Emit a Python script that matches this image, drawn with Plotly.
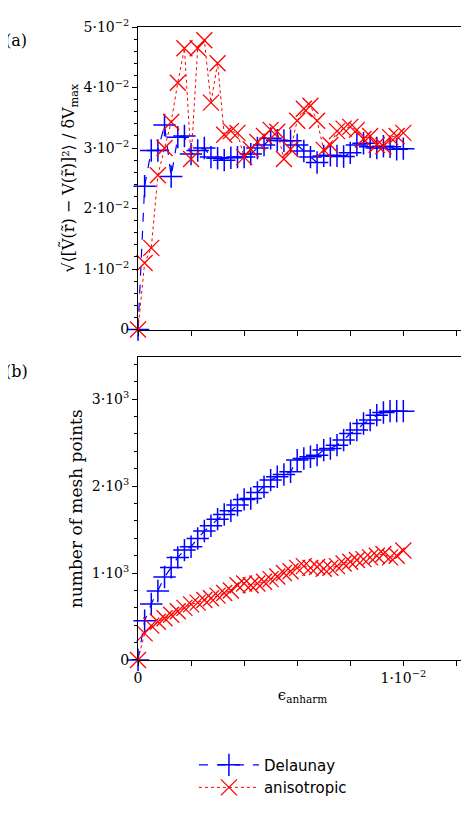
import numpy as np
import plotly.graph_objects as go
from plotly.subplots import make_subplots

eps = [i * 0.00025 for i in range(41)]

err_delaunay = [0, 0.0237, 0.0296, 0.0296, 0.0338, 0.0253, 0.0318, 0.032, 0.0290, 0.0296,
                0.0300, 0.0285, 0.0283, 0.0280, 0.0284, 0.0285, 0.0285, 0.0290, 0.0300, 0.0305,
                0.0316, 0.0313, 0.0312, 0.0312, 0.0305, 0.0295, 0.0285, 0.0276, 0.0287, 0.0288,
                0.0287, 0.0286, 0.0292, 0.0305, 0.0308, 0.0302, 0.0300, 0.0303, 0.0302, 0.0298,
                0.0299]
err_aniso = [0, 0.0110, 0.0135, 0.0255, 0.0300, 0.0343, 0.0408, 0.0465, 0.0282, 0.0465,
             0.0478, 0.0375, 0.0440, 0.0322, 0.0328, 0.0325, 0.0285, 0.0298, 0.0310, 0.0320,
             0.0330, 0.0327, 0.0282, 0.0298, 0.0345, 0.0365, 0.0370, 0.0345, 0.0297, 0.0305,
             0.0328, 0.0332, 0.0335, 0.0330, 0.0315, 0.0320, 0.0305, 0.0303, 0.0318, 0.0320,
             0.0325]

mesh_delaunay = [0, 452, 644, 793, 954, 1065, 1180, 1264, 1303, 1398,
                 1483, 1544, 1620, 1674, 1716, 1782, 1847, 1858, 1927, 1992,
                 2069, 2107, 2134, 2165, 2299, 2318, 2337, 2356, 2414, 2433,
                 2471, 2529, 2605, 2644, 2720, 2759, 2816, 2847, 2862, 2862,
                 2862]
mesh_aniso = [0, 306, 395, 440, 480, 520, 560, 600, 640, 660,
              690, 710, 740, 770, 800, 860, 880, 860, 880, 900,
              930, 960, 1000, 1020, 1060, 1080, 1060, 1070, 1050, 1060,
              1080, 1110, 1130, 1150, 1160, 1180, 1200, 1220, 1180, 1200,
              1260]

font = "DejaVu Serif"
fig = make_subplots(rows=2, cols=1, vertical_spacing=0.044)

blue = dict(mode="lines+markers", cliponaxis=False,
            line=dict(color="blue", dash="dash", width=1.2),
            marker=dict(symbol="cross-thin", size=16, line=dict(color="blue", width=1.5)))
red = dict(mode="lines+markers", cliponaxis=False,
           line=dict(color="red", dash="dot", width=1),
           marker=dict(symbol="x-thin", size=16, line=dict(color="red", width=1.3)))

fig.add_trace(go.Scatter(x=eps, y=err_delaunay, name="Delaunay", **blue), 1, 1)
fig.add_trace(go.Scatter(x=eps, y=err_aniso, name="anisotropic", **red), 1, 1)
fig.add_trace(go.Scatter(x=eps, y=mesh_delaunay, showlegend=False, **blue), 2, 1)
fig.add_trace(go.Scatter(x=eps, y=mesh_aniso, showlegend=False, **red), 2, 1)

ax = dict(showline=True, linecolor="black", linewidth=1, mirror=True, showgrid=False,
          zeroline=False, ticks="outside", tickcolor="black", ticklen=5,
          tickfont=dict(size=14, family=font))
xticks = [0, 0.002, 0.004, 0.006, 0.008, 0.01, 0.012]
xlabels = ["0", "", "", "", "", "1·10<sup>−2</sup>", ""]
for r in (1, 2):
    fig.update_xaxes(range=[0, 0.0124], tickvals=xticks,
                     ticktext=xlabels if r == 2 else [""] * 7, row=r, col=1, **ax)
fig.update_xaxes(title=dict(text="ϵ<sub>anharm</sub>", font=dict(size=15, family=font),
                            standoff=4),
                 row=2, col=1)

fig.update_yaxes(range=[0, 0.05], tickvals=[0, 0.01, 0.02, 0.03, 0.04, 0.05],
                 ticktext=["0"] + [f"{k}·10<sup>−2</sup>" for k in range(1, 6)],
                 minor=dict(dtick=0.002, ticks="outside", ticklen=3, tickcolor="black"),
                 title=dict(text="√⟨[Ṽ(r̃) − V(r̃)]²⟩ / δV<sub>max</sub>",
                            font=dict(size=16, family=font), standoff=4),
                 row=1, col=1, **ax)
fig.update_yaxes(range=[0, 3480], tickvals=[0, 1000, 2000, 3000],
                 ticktext=["0"] + [f"{k}·10<sup>3</sup>" for k in range(1, 4)],
                 minor=dict(dtick=200, ticks="outside", ticklen=3, tickcolor="black"),
                 title=dict(text="number of mesh points", font=dict(size=17, family=font),
                            standoff=4),
                 row=2, col=1, **ax)

fig.add_annotation(text="(a)", x=0, y=1.0, xref="paper", yref="paper", xshift=-135,
                   yshift=-2, showarrow=False, xanchor="left", yanchor="top",
                   font=dict(size=16, family=font))
fig.add_annotation(text="(b)", x=0, y=0.477, xref="paper", yref="paper", xshift=-135,
                   yshift=-2, showarrow=False, xanchor="left", yanchor="top",
                   font=dict(size=16, family=font))

fig.update_layout(width=469, height=816, margin=dict(l=130, r=9, t=15, b=164),
                  plot_bgcolor="white", paper_bgcolor="white",
                  font=dict(family=font, color="black"),
                  legend=dict(x=0.17, y=-0.14, xanchor="left", yanchor="top",
                              font=dict(size=15, family="DejaVu Sans"),
                              tracegroupgap=30, itemwidth=60))
fig.write_html("out.html")
